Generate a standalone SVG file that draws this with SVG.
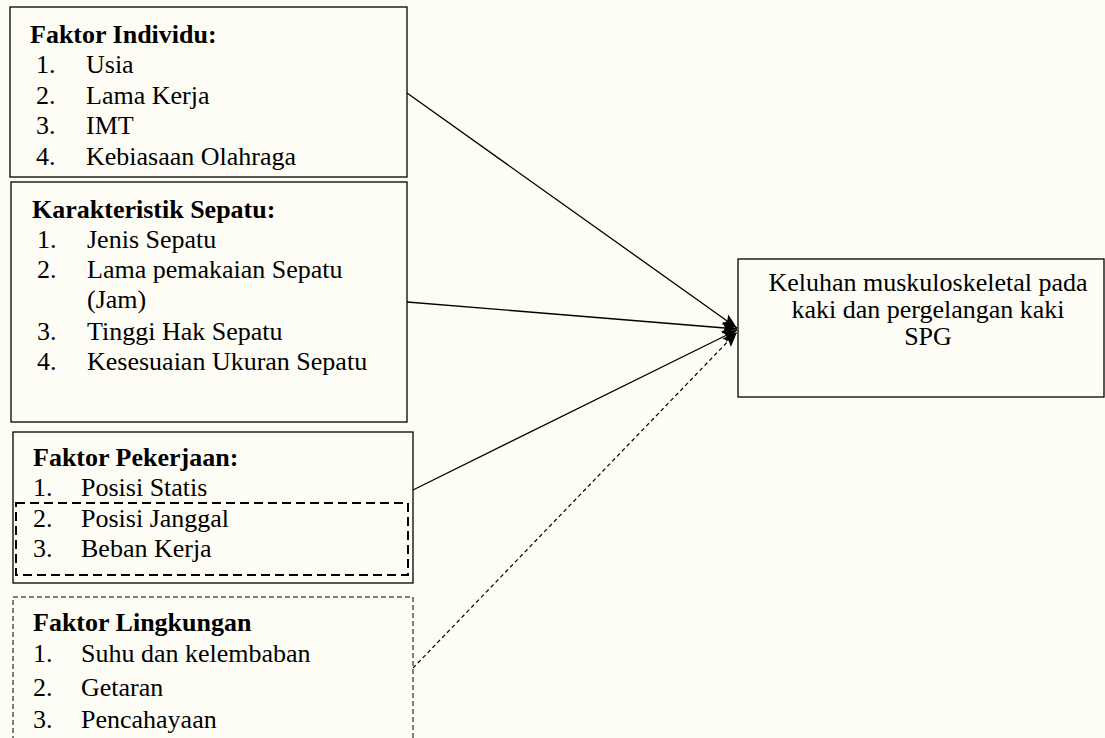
<svg xmlns="http://www.w3.org/2000/svg" width="1105" height="738" viewBox="0 0 1105 738">
<style>
text{font-family:"Liberation Serif","Times New Roman",serif;font-size:26px;fill:#000}
.b{font-weight:bold}
.box{fill:none;stroke:#000;stroke-width:1.3}
.dbox{fill:none;stroke:#000;stroke-width:2;stroke-dasharray:9 5}
.tbox{fill:none;stroke:#000;stroke-width:1;stroke-dasharray:5 3}
.ln{stroke:#000;stroke-width:1.3;fill:none;marker-end:url(#ah)}
.dl{stroke:#000;stroke-width:1.2;fill:none;stroke-dasharray:4 3;marker-end:url(#ah)}
</style>
<defs>
<marker id="ah" markerWidth="16" markerHeight="12" refX="15" refY="6" orient="auto" markerUnits="userSpaceOnUse">
<path d="M0,0 L15,6 L0,12 L3,6 Z" fill="#000"/>
</marker>
</defs>
<rect width="1105" height="738" fill="#fdfdf6"/>
<g id="connectors">
<line class="ln" x1="407" y1="93" x2="737" y2="328"/>
<line class="ln" x1="407" y1="302" x2="737" y2="329"/>
<line class="ln" x1="413" y1="490" x2="737" y2="330"/>
<line class="dl" x1="413" y1="668" x2="737" y2="332"/>
</g>
<g id="faktor-individu">
<rect class="box" x="10" y="7" width="397" height="170"/>
<text class="b" x="30" y="43">Faktor Individu:</text>
<text x="36" y="73">1.</text><text x="86" y="73">Usia</text>
<text x="36" y="103.5">2.</text><text x="86" y="103.5">Lama Kerja</text>
<text x="36" y="134">3.</text><text x="86" y="134">IMT</text>
<text x="36" y="164.5">4.</text><text x="86" y="164.5">Kebiasaan Olahraga</text>
</g>
<g id="karakteristik-sepatu">
<rect class="box" x="11" y="182" width="396" height="240"/>
<text class="b" x="32" y="218">Karakteristik Sepatu:</text>
<text x="37" y="248">1.</text><text x="87" y="248">Jenis Sepatu</text>
<text x="37" y="278">2.</text><text x="87" y="278">Lama pemakaian Sepatu</text>
<text x="87" y="308">(Jam)</text>
<text x="37" y="340">3.</text><text x="87" y="340">Tinggi Hak Sepatu</text>
<text x="37" y="370">4.</text><text x="87" y="370">Kesesuaian Ukuran Sepatu</text>
</g>
<g id="faktor-pekerjaan">
<rect class="box" x="13" y="432" width="400" height="151"/>
<rect class="dbox" x="16" y="503" width="392" height="72"/>
<text class="b" x="33" y="466">Faktor Pekerjaan:</text>
<text x="33" y="496">1.</text><text x="81" y="496">Posisi Statis</text>
<text x="33" y="527">2.</text><text x="81" y="527">Posisi Janggal</text>
<text x="33" y="557">3.</text><text x="81" y="557">Beban Kerja</text>
</g>
<g id="faktor-lingkungan">
<rect class="tbox" x="13" y="597" width="400" height="160"/>
<text class="b" x="33" y="631">Faktor Lingkungan</text>
<text x="33" y="662">1.</text><text x="81" y="662">Suhu dan kelembaban</text>
<text x="33" y="696">2.</text><text x="81" y="696">Getaran</text>
<text x="33" y="728">3.</text><text x="81" y="728">Pencahayaan</text>
</g>
<g id="keluhan">
<rect class="box" x="738" y="259" width="366" height="138"/>
<text x="928" y="291" text-anchor="middle">Keluhan muskuloskeletal pada</text>
<text x="928" y="318" text-anchor="middle">kaki dan pergelangan kaki</text>
<text x="928" y="345" text-anchor="middle">SPG</text>
</g>
</svg>
